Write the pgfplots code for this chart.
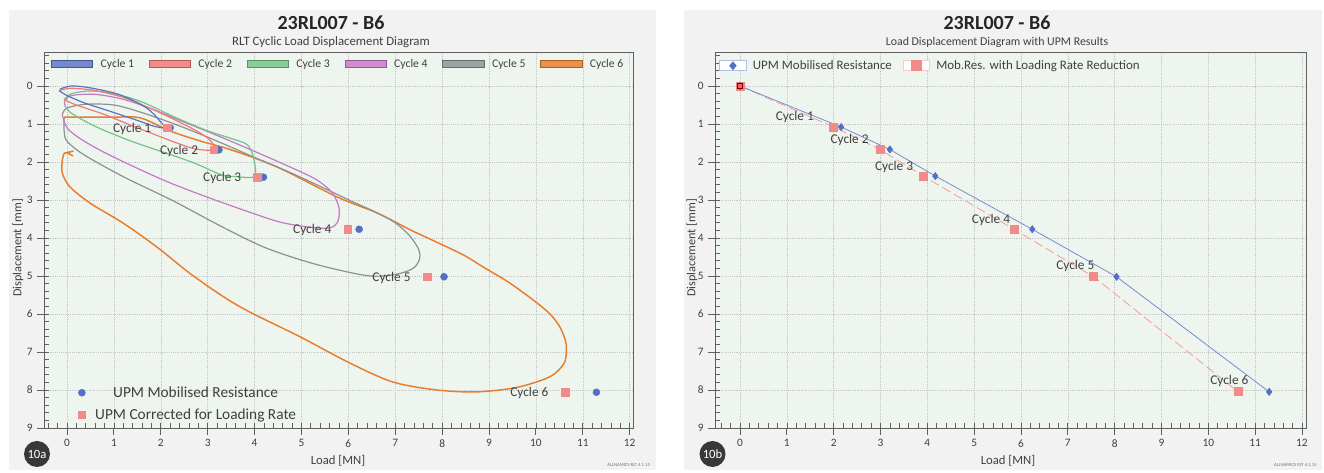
\documentclass[border=0pt]{standalone}
\usepackage{fontspec}
\setmainfont{Carlito}
\usepackage{pgfplots}
\pgfplotsset{compat=1.18}
\definecolor{panelbg}{HTML}{F2F2F2}
\definecolor{plotbg}{HTML}{EEF5EE}
\definecolor{c1}{HTML}{5B73C2}
\definecolor{c2}{HTML}{F07878}
\definecolor{c3}{HTML}{72C486}
\definecolor{c4}{HTML}{C678C8}
\definecolor{c5}{HTML}{8A9292}
\definecolor{c6}{HTML}{E87D2C}
\definecolor{upmblue}{HTML}{5470C6}
\definecolor{upmred}{HTML}{F28A8A}
\definecolor{txt}{HTML}{404040}
\definecolor{tickc}{HTML}{606060}

\pgfplotsset{
  rltbase/.style={
    anchor=south west, scale only axis, height=282pt, clip=false,
    ymin=-0.895, ymax=9, y dir=reverse,
    xtick={0,1,...,12}, ytick={0,1,...,9},
    xtick pos=left, ytick pos=left,
    tick align=outside, major tick length=5pt,
    axis background/.style={fill=plotbg},
    grid=major, major grid style={gray!45, densely dotted, line width=0.4pt},
    axis line style={draw=tickc, line width=0.6pt},
    xtick style={draw=tickc, line width=0.7pt},
    ytick style={draw=tickc, line width=0.7pt},
    tick label style={font=\fontsize{8.5}{10}\selectfont, text=txt},
    /pgf/number format/assume math mode=true,
  },
  cyc/.style={line width=0.9pt, smooth, forget plot},
  cycleg/.style={legend image code/.code={\path[draw=none,fill=none] (0pt,0pt) -- (35pt,0pt);
    \draw[draw=#1!75!black,fill=#1!85,line width=0.5pt] (0pt,-2.6pt) rectangle (31pt,2.6pt);}},
}
\tikzset{lab/.style={font=\fontsize{10}{12}\selectfont, text=txt}}

% tick marks along the bottom and left edges (#1 = xmin of the axis)
\newcommand{\rltticks}[1]{%
  \foreach \tk in {0,1,...,12}{\edef\tmp{\noexpand\draw[tickc, line width=0.7pt] (axis cs:\tk,9) -- ++(0pt,-5pt);}\tmp}%
  \foreach \tk in {-0.4,-0.2,...,12.01}{\edef\tmp{\noexpand\draw[tickc, line width=0.5pt] (axis cs:\tk,9) -- ++(0pt,3.5pt);}\tmp}%
  \foreach \tk in {0,1,...,9}{\edef\tmp{\noexpand\draw[tickc, line width=0.7pt] (axis cs:#1,\tk) -- ++(-5pt,0pt);}\tmp}%
  \foreach \tk in {-0.8,-0.6,...,9.01}{\edef\tmp{\noexpand\draw[tickc, line width=0.5pt] (axis cs:#1,\tk) -- ++(3.5pt,0pt);}\tmp}%
}

\begin{document}
\begin{tikzpicture}
\fill[white] (0,0) rectangle (993pt,354.75pt);
\fill[panelbg] (6.75pt,2.25pt) rectangle (492pt,347.25pt);
\fill[panelbg] (513pt,2.25pt) rectangle (991.5pt,347.25pt);

% ---------------- left panel ----------------
\begin{axis}[rltbase, at={(33pt,33.75pt)}, width=441.75pt, xmin=-0.49, xmax=12.07,
  legend columns=6,
  legend style={at={(0.5,1)}, anchor=north, yshift=-1pt, draw=none, fill=none,
    font=\fontsize{8.8}{10.5}\selectfont, text=txt,
    /tikz/every even column/.append style={column sep=9pt}},
]
\addlegendimage{cycleg=c1}
\addlegendentry{Cycle 1}
\addlegendimage{cycleg=c2}
\addlegendentry{Cycle 2}
\addlegendimage{cycleg=c3}
\addlegendentry{Cycle 3}
\addlegendimage{cycleg=c4}
\addlegendentry{Cycle 4}
\addlegendimage{cycleg=c5}
\addlegendentry{Cycle 5}
\addlegendimage{cycleg=c6}
\addlegendentry{Cycle 6}

\rltticks{-0.49}

% Cycle 6 (orange)
\addplot[c6, cyc, line width=1.1pt] coordinates {
(-0.06,0.82)(0.5,0.82)(1.0,0.82)(1.57,0.84)(2.21,1.19)(2.85,1.45)(3.5,1.68)(4.48,2.13)
(5.76,2.92)(6.61,3.34)(7.33,3.79)(7.78,4.05)(8.46,4.45)(8.87,4.76)(9.4,5.15)(9.94,5.63)
(10.3,6.0)(10.51,6.34)(10.63,6.7)(10.65,6.95)(10.6,7.3)(10.3,7.65)(9.6,7.93)(8.74,8.05)
(7.89,8.0)(6.95,7.79)(6.03,7.29)(4.97,6.6)(3.9,5.95)(3.33,5.54)(2.62,4.93)(1.91,4.23)
(1.2,3.61)(0.49,3.08)(0.06,2.65)(-0.1,2.29)(-0.1,1.95)(-0.06,1.77)};
\addplot[c6, line width=1.1pt, forget plot] coordinates {(-0.06,1.77)(0.14,1.71)(0.0,1.76)(0.13,1.84)};
% Cycle 5 (gray)
\addplot[c5, cyc] coordinates {
(-0.1,0.75)(0.0,0.58)(0.4,0.48)(1.0,0.5)(1.6,0.7)(2.4,1.05)(3.2,1.45)(4.0,1.88)(4.8,2.3)
(5.5,2.7)(6.1,3.05)(6.6,3.33)(7.0,3.6)(7.3,3.93)(7.5,4.3)(7.52,4.55)(7.38,4.8)(7.0,4.96)
(6.4,4.99)(5.33,4.7)(4.26,4.27)(3.33,3.72)(2.26,3.02)(1.19,2.38)(0.35,1.8)(0.0,1.45)
(-0.06,1.2)(-0.06,0.84)};
% Cycle 4 (purple)
\addplot[c4, cyc] coordinates {
(-0.03,0.55)(-0.05,0.4)(0.1,0.25)(0.6,0.22)(1.2,0.35)(1.8,0.6)(2.5,0.95)(3.2,1.3)(4.0,1.72)
(4.7,2.1)(5.3,2.45)(5.65,2.8)(5.8,3.2)(5.78,3.55)(5.62,3.73)(5.2,3.72)(4.54,3.58)(3.8,3.28)
(2.98,2.92)(2.2,2.55)(1.56,2.2)(0.8,1.75)(0.3,1.4)(0.0,1.1)(-0.1,0.75)};
% Cycle 3 (green)
\addplot[c3, cyc] coordinates {
(-0.06,0.36)(0.1,0.2)(0.5,0.13)(1.0,0.2)(1.6,0.42)(2.3,0.82)(3.0,1.18)(3.5,1.38)(3.85,1.55)
(3.98,1.9)(4.0,2.38)(3.6,2.38)(3.3,2.34)(2.7,2.02)(2.0,1.72)(1.3,1.42)(0.58,1.05)(0.1,0.72)
(-0.03,0.55)};
% Cycle 2 (red)
\addplot[c2, cyc] coordinates {
(-0.17,0.12)(0.1,0.06)(0.6,0.12)(1.2,0.3)(1.8,0.6)(2.4,0.95)(2.9,1.28)(3.1,1.5)(3.13,1.68)
(2.75,1.66)(2.3,1.48)(1.4,1.05)(0.8,0.75)(0.2,0.5)(-0.06,0.36)};
% Cycle 1 (blue)
\addplot[c1, cyc] coordinates {
(-0.15,0.08)(0.08,0.0)(0.4,0.03)(0.79,0.12)(1.1,0.22)(1.43,0.39)(1.7,0.58)(1.86,0.75)
(2.0,0.95)(2.1,1.1)(1.86,1.06)(1.49,0.9)(0.93,0.67)(0.36,0.44)(0.0,0.25)(-0.17,0.12)};

% UPM points
\addplot[only marks, mark=*, mark size=2.6pt, color=upmblue, forget plot] coordinates {
(2.2,1.1)(3.24,1.68)(4.19,2.4)(6.23,3.77)(8.04,5.02)(11.29,8.06)};
\addplot[only marks, mark=square*, mark size=2.9pt, color=upmred, forget plot] coordinates {
(2.14,1.1)(3.13,1.68)(4.06,2.4)(5.99,3.77)(7.69,5.02)(10.62,8.06)};

\node[lab] at (axis cs:1.39,1.14) {Cycle 1};
\node[lab] at (axis cs:2.39,1.71) {Cycle 2};
\node[lab] at (axis cs:3.31,2.43) {Cycle 3};
\node[lab] at (axis cs:5.23,3.79) {Cycle 4};
\node[lab] at (axis cs:6.92,5.04) {Cycle 5};
\node[lab] at (axis cs:9.86,8.09) {Cycle 6};
\end{axis}

% bottom-left legend (overlay)
\begin{axis}[at={(33pt,33.75pt)}, anchor=south west, scale only axis, width=441.75pt, height=282pt,
  hide axis, xmin=0, xmax=1, ymin=0, ymax=1,
  legend style={at={(0,0)}, anchor=south west, xshift=25pt, yshift=3pt, draw=none, fill=none,
    inner sep=0pt, font=\fontsize{11.5}{13.5}\selectfont, text=txt, row sep=3pt},
  legend cell align=left]
\addlegendimage{legend image code/.code={\fill[upmblue] (4pt,0) circle (2.6pt);}}
\addlegendentry{\hspace{18.5pt}UPM Mobilised Resistance}
\addlegendimage{legend image code/.code={\fill[upmred] (1pt,-2.9pt) rectangle (6.8pt,2.9pt);}}
\addlegendentry{\hspace{5pt}UPM Corrected for Loading Rate}
\end{axis}

% ---------------- right panel ----------------
\begin{axis}[rltbase, at={(536.25pt,33.75pt)}, width=443.25pt, xmin=-0.534, xmax=12.086,
  legend columns=2,
  legend style={at={(0,1)}, anchor=north west, xshift=0pt, yshift=-2pt, draw=none, fill=none,
    font=\fontsize{9.7}{11.5}\selectfont, text=txt,
    /tikz/every even column/.append style={column sep=6pt}},
]
\addlegendimage{legend image code/.code={\path[draw=none,fill=none] (0pt,0pt) -- (23pt,0pt); \draw[draw=upmblue!45, fill=white, line width=0.5pt] (0pt,-3.75pt) rectangle (20pt,3.75pt); \fill[upmblue] (10pt,3pt) -- (12.5pt,0pt) -- (10pt,-3pt) -- (7.5pt,0pt) -- cycle;}}
\addlegendentry{UPM Mobilised Resistance}
\addlegendimage{legend image code/.code={\path[draw=none,fill=none] (0pt,0pt) -- (23pt,0pt); \draw[draw=upmred!45, fill=white, line width=0.5pt] (0pt,-3.75pt) rectangle (20pt,3.75pt); \fill[upmred] (6pt,-3.75pt) rectangle (14pt,3.75pt);}}
\addlegendentry{Mob.Res. with Loading Rate Reduction}

\rltticks{-0.534}

\addplot[forget plot, upmred!85, line width=0.6pt, dash pattern=on 7pt off 3pt,
  mark=square*, mark size=3pt, mark options={solid, fill=upmred, draw=upmred}] coordinates {
(0,0)(2.0,1.08)(2.99,1.67)(3.91,2.37)(5.85,3.77)(7.55,5.02)(10.64,8.05)};
\addplot[forget plot, upmblue!80, line width=0.6pt,
  mark=diamond*, mark size=2.6pt, mark options={fill=upmblue, draw=upmblue}] coordinates {
(0,0)(2.16,1.08)(3.2,1.67)(4.17,2.37)(6.24,3.77)(8.04,5.02)(11.3,8.05)};
\addplot[forget plot, only marks, mark=square*, mark size=2.2pt, mark options={fill=upmred!70!red, draw=red!45!black, line width=0.7pt}] coordinates {(0,0)};

\node[lab] at (axis cs:1.17,0.82) {Cycle 1};
\node[lab] at (axis cs:2.34,1.42) {Cycle 2};
\node[lab] at (axis cs:3.29,2.12) {Cycle 3};
\node[lab] at (axis cs:5.36,3.53) {Cycle 4};
\node[lab] at (axis cs:7.16,4.74) {Cycle 5};
\node[lab] at (axis cs:10.45,7.75) {Cycle 6};
\end{axis}

% titles and labels
\node[font=\bfseries\fontsize{15}{17}\selectfont, text=black!85] at (248.25pt,337.5pt) {23RL007 - B6};
\node[font=\fontsize{9.6}{11}\selectfont, text=txt] at (248.25pt,323.25pt) {RLT Cyclic Load Displacement Diagram};
\node[font=\bfseries\fontsize{15}{17}\selectfont, text=black!85] at (747.75pt,337.5pt) {23RL007 - B6};
\node[font=\fontsize{8.9}{10.5}\selectfont, text=txt] at (747.75pt,323.25pt) {Load Displacement Diagram with UPM Results};

\node[rotate=90, font=\fontsize{9.2}{11}\selectfont, text=txt] at (13.5pt,168.75pt) {Displacement [mm]};
\node[rotate=90, font=\fontsize{9.2}{11}\selectfont, text=txt] at (519pt,168.75pt) {Displacement [mm]};
\node[font=\fontsize{9.5}{11}\selectfont, text=txt] at (253.5pt,9pt) {Load [MN]};
\node[font=\fontsize{9.5}{11}\selectfont, text=txt] at (756pt,9pt) {Load [MN]};

% badges
\fill[black!78] (27.75pt,14.25pt) circle (9.75pt);
\node[font=\fontsize{9.5}{11}\selectfont, text=white] at (27.75pt,14.25pt) {10a};
\fill[black!78] (534.4pt,14.25pt) circle (9.75pt);
\node[font=\fontsize{9.5}{11}\selectfont, text=white] at (534.4pt,14.25pt) {10b};

\node[font=\fontsize{3.5}{4}\selectfont, text=black!55, anchor=south east] at (491pt,1.5pt) {ALLNAMICS RLT 4.1.15};
\node[font=\fontsize{3.5}{4}\selectfont, text=black!55, anchor=south east] at (991pt,1.5pt) {ALLNAMICS RLT 4.1.15};
\end{tikzpicture}
\end{document}
